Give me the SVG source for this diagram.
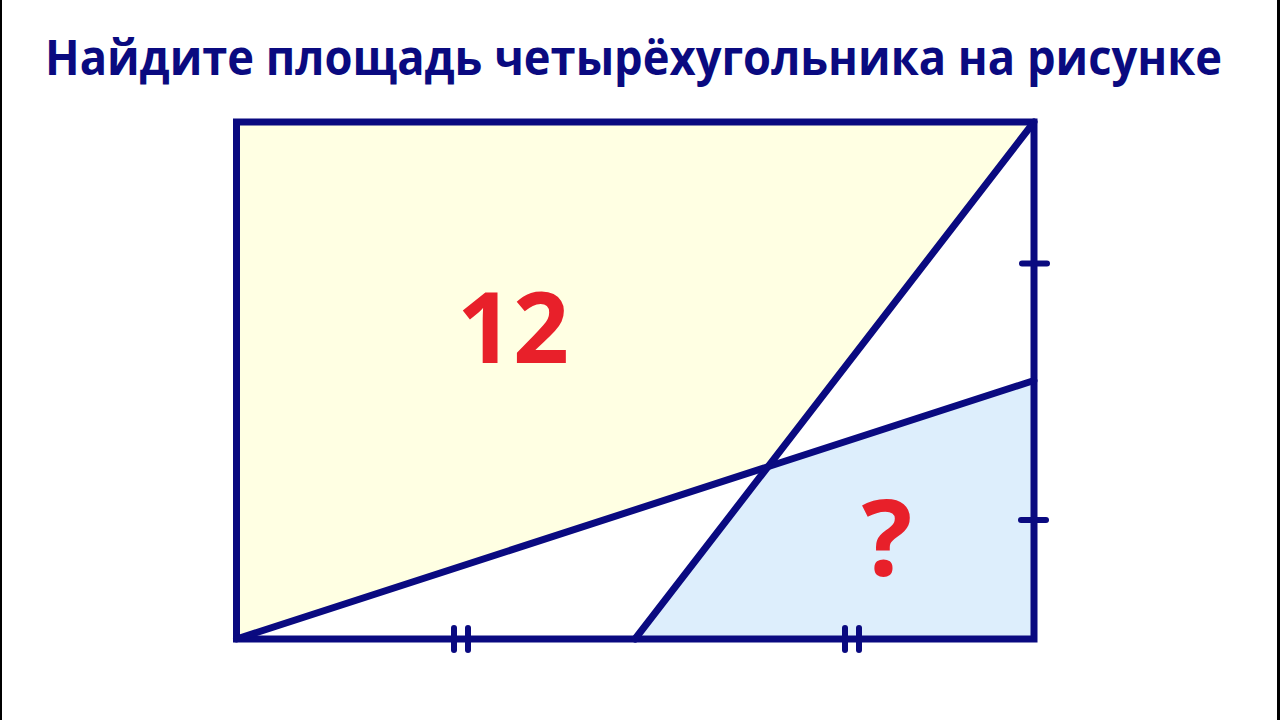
<svg xmlns="http://www.w3.org/2000/svg" width="1280" height="720" viewBox="0 0 1280 720">
<style>
.edge{stroke:#0A0A80;stroke-width:7;fill:none;stroke-linecap:round;stroke-linejoin:miter}
.tick{stroke:#0A0A80;stroke-width:6;fill:none;stroke-linecap:round}
.title{font-family:"Open Sans","Noto Sans","Liberation Sans",sans-serif;font-weight:bold;fill:#0A0A80}
.num{font-family:"Open Sans","Noto Sans","Liberation Sans",sans-serif;font-weight:bold;fill:#E8202A;text-anchor:middle}
</style>
<rect x="0" y="0" width="1280" height="720" fill="#FFFFFF"/>
<rect x="0" y="0" width="2" height="720" fill="#000"/>
<rect x="1277" y="0" width="3" height="720" fill="#000"/>
<text class="title" x="45" y="75" font-size="48" textLength="1177" lengthAdjust="spacingAndGlyphs">Найдите площадь четырёхугольника на рисунке</text>
<g id="regions">
<polygon id="yellow" points="236.5,122 1034,122 768.2,466.7 236.5,639" fill="#FFFFE3"/>
<polygon id="blue" points="635,639 768.2,466.7 1034,380.5 1034,639" fill="#DDEEFC"/>
</g>
<g id="connectors">
<rect class="edge" x="236.5" y="122" width="797.5" height="517"/>
<line class="edge" x1="1034" y1="122" x2="635" y2="639"/>
<line class="edge" x1="236.5" y1="639" x2="1034" y2="380.5"/>
</g>
<g id="ticks">
<line class="tick" x1="1022" y1="263.5" x2="1047" y2="263.5"/>
<line class="tick" x1="1021" y1="520" x2="1046" y2="520"/>
<line class="tick" x1="454" y1="628" x2="454" y2="650"/>
<line class="tick" x1="468" y1="628" x2="468" y2="650"/>
<line class="tick" x1="845" y1="628" x2="845" y2="650"/>
<line class="tick" x1="859" y1="628" x2="859" y2="650"/>
</g>
<g id="labels">
<text class="num" x="513" y="363" font-size="98">12</text>
<text class="num" x="887" y="576" font-size="106">?</text>
</g>
</svg>
